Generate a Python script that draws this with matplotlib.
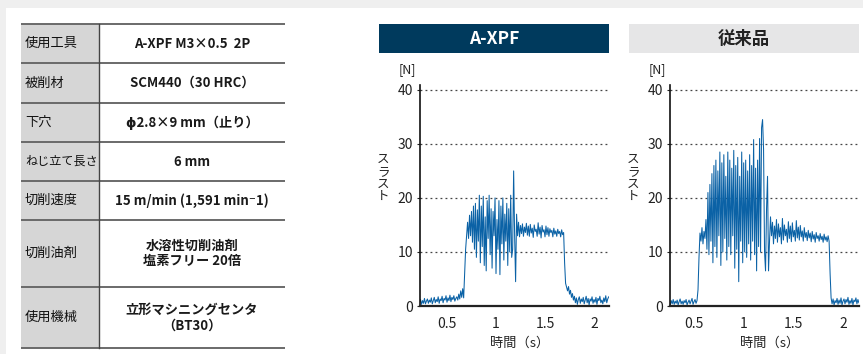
import numpy as np
import matplotlib.pyplot as plt
from matplotlib.patches import Rectangle

plt.rcParams['font.family'] = ['Noto Sans CJK JP', 'DejaVu Sans']

# 試験条件
cond_labels = ["使用工具", "被削材", "下穴", "ねじ立て長さ", "切削速度", "切削油剤", "使用機械"]
cond_values = ["A-XPF M3×0.5  2P", "SCM440（30 HRC）", "ϕ2.8×9 mm（止り）", "6 mm",
               "15 m/min (1,591 min⁻1)", "水溶性切削油剤\n塩素フリー 20倍",
               "立形マシニングセンタ\n（BT30）"]

titles = ["A-XPF", "従来品"]

# スラスト波形 [N]  (0.01 s 刻みで読み取り)
t0_xpf = 0.22
thrust_xpf = [
    0.6, 1.2, 0.3, 1.0, 0.5, 1.4, 0.4, 0.9, 1.3, 0.5,
    1.1, 0.7, 1.5, 0.4, 1.0, 1.6, 0.6, 1.2, 0.8, 1.7,
    0.5, 1.3, 1.0, 1.8, 0.6, 1.4, 1.1, 1.9, 0.7, 1.5,
    1.0, 2.0, 0.8, 1.6, 1.2, 1.9, 0.9, 1.4, 1.7, 1.1,
    2.2, 1.3, 2.8, 1.6,
    3.2, 1.5, 6.0, 10.5, 13.0, 15.5,
    12.5, 16.8, 13.0, 17.5, 11.8,
    18.5, 10.5, 19.0, 9.0, 17.8, 12.0, 20.5, 8.0, 18.5, 11.0,
    20.3, 7.5, 16.5, 6.5, 19.5, 12.5, 20.5, 9.5, 18.0, 7.0,
    17.5, 13.0, 20.0, 6.0, 16.0, 10.5, 19.5, 5.8, 18.5, 11.5,
    20.0, 8.5, 17.0, 12.0, 19.0, 7.5, 18.0, 10.0, 20.5, 9.0,
    10.5, 25.0, 13.0, 4.5, 17.0,
    13.0, 15.5, 12.8, 14.9, 13.4, 15.2, 12.9, 14.6, 13.6, 15.3,
    13.1, 14.8, 12.9, 15.1, 13.5, 14.4, 12.7, 15.0, 13.8, 14.2,
    12.9, 15.4, 13.3, 14.6, 12.6, 14.9, 13.7, 14.1, 12.8, 14.8,
    13.2, 14.5, 12.9, 14.3, 13.6, 14.0, 12.8, 14.4, 13.3, 13.9,
    12.9, 14.2, 13.4, 13.8, 12.8, 14.1, 13.2, 13.6,
    8.0, 4.2, 3.5, 2.8, 3.6, 2.2, 2.9, 1.6, 2.3, 1.1,
    1.8, 0.6, 1.5, 0.3, 1.2, 1.7, 0.5, 1.3, 0.8, 1.6,
    0.4, 1.1, 1.8, 0.6, 1.4, 0.2, 1.3, 0.9, 1.7, 0.5,
    1.2, 0.7, 1.6, 0.3, 1.4, 1.0, 1.8, 0.6, 1.1, 0.4,
    1.5, 0.8, 1.9, 0.6, 1.3, 1.7,
]

t0_conv = 0.25
thrust_conv = [
    0.8, 0.2, 1.0, 0.4, 1.2, 0.3, 0.9, 0.5, 1.1, 0.2,
    0.8, 1.3, 0.4, 0.9, 0.3, 1.0, 0.6, 1.2, 0.2, 0.7,
    1.1, 0.4, 0.9, 1.4, 0.3, 0.8, 1.2, 0.5, 1.0,
    3.0, 9.0, 13.5, 12.0, 14.5, 11.5, 13.8, 12.5, 16.0,
    10.5, 21.0, 9.5, 22.5, 12.0, 24.5, 8.0, 26.0, 11.0, 27.0,
    9.0, 25.0, 13.0, 28.5, 7.5, 26.5, 10.0, 28.0, 12.5, 24.0,
    8.5, 28.5, 11.0, 27.0, 9.5, 25.5, 13.0, 28.8, 7.0, 26.0,
    10.5, 27.5, 4.5, 24.0, 12.0, 28.5, 8.0, 26.5, 10.0, 27.0,
    9.0, 25.0, 11.5, 28.0, 8.5, 26.0, 12.0, 30.8, 9.5, 25.5,
    6.5, 27.0, 11.0, 31.0, 10.0,
    33.0, 34.5, 29.0, 10.0, 6.5, 18.0, 24.0, 6.5,
    12.0, 16.5, 13.0, 15.5, 11.5, 14.8, 12.5, 16.0, 11.8, 15.2,
    12.8, 14.5, 11.5, 16.2, 12.2, 15.0, 13.0, 14.2, 11.8, 15.6,
    12.5, 14.8, 11.9, 15.4, 12.8, 14.0, 12.0, 15.8, 12.6, 14.6,
    12.2, 14.9, 12.8, 13.9, 12.0, 14.5, 12.7, 13.6, 12.1, 14.0,
    12.6, 13.5, 11.9, 13.8, 12.4, 13.2, 11.8, 13.6, 12.5, 13.0,
    12.0, 13.4, 12.3, 12.9, 11.8, 13.3, 12.2, 12.8, 11.9, 13.0,
    12.0, 6.0, 1.5,
    0.4, 1.3, 0.2, 1.0, 0.6, 1.4, 0.3, 1.1, 0.5, 1.5,
    0.2, 0.9, 1.3, 0.4, 1.2, 0.7, 1.6, 0.3, 1.0, 0.5,
    1.4, 0.2, 1.1, 0.8, 1.5, 0.4, 1.2, 0.6,
]
dt = 0.01

W, H = 863, 354
fig = plt.figure(figsize=(W / 100, H / 100), dpi=100)
fig.patch.set_facecolor("#efefef")

# 背景・表・見出し (ピクセル座標)
bg = fig.add_axes([0, 0, 1, 1], zorder=-1)
bg.set_xlim(0, W)
bg.set_ylim(H, 0)
bg.axis("off")
bg.add_patch(Rectangle((6, 8), W - 6, H - 8, facecolor="white", edgecolor="none"))

rows_y = [24, 63, 103, 142, 181, 220, 287, 348]
bg.add_patch(Rectangle((21, 24), 78, 324, facecolor="#d6d6d6", edgecolor="none"))
for y in rows_y:
    bg.plot([21, 285], [y, y], color="#6a6a6a", lw=1.4, solid_capstyle="butt")
bg.plot([99, 99], [24, 348], color="#444444", lw=1.0)
for i in range(len(cond_labels)):
    yc = (rows_y[i] + rows_y[i + 1]) / 2
    fs = 9.5 if len(cond_labels[i]) <= 4 else 8.7
    bg.text(25, yc, cond_labels[i], fontsize=fs, ha="left", va="center",
            color="#111111")
    bg.text(192, yc, cond_values[i], fontsize=9.5, ha="center", va="center",
            color="#1a1a1a", fontweight="bold", linespacing=1.15)

boxes = [(379, "#003a5d", "white"), (629, "#e6e6e7", "#222222")]
for (bx, fc, tc), title in zip(boxes, titles):
    bg.add_patch(Rectangle((bx, 24), 230, 29, facecolor=fc, edgecolor="none"))
    bg.text(bx + 115, 39, title, fontsize=12.5, ha="center", va="center",
            color=tc, fontweight="bold")

series = [(t0_xpf, thrust_xpf, 420, (0.2245, 2.153)),
          (t0_conv, thrust_conv, 670, (0.258, 2.161))]

for t0, vals, left_px, xlim in series:
    t = t0 + dt * np.arange(len(vals))
    ax = fig.add_axes([left_px / W, (H - 306) / H, 189 / W, (306 - 85) / H])
    ax.set_facecolor("none")
    ax.plot(t, vals, color="#0b62a6", lw=0.75)
    ax.set_xlim(*xlim)
    ax.set_ylim(0, 40.9)
    ax.set_yticks([0, 10, 20, 30, 40])
    ax.set_xticks([0.5, 1, 1.5, 2])
    ax.set_xticklabels(["0.5", "1", "1.5", "2"])
    for y in [10, 20, 30, 40]:
        ax.axhline(y, color="#444444", lw=0.9, ls=(0, (1.5, 2.5)), zorder=0)
    for s in ["top", "right"]:
        ax.spines[s].set_visible(False)
    ax.spines["left"].set_color("#111111")
    ax.spines["left"].set_linewidth(1.2)
    ax.spines["bottom"].set_color("#222222")
    ax.spines["bottom"].set_linewidth(1.6)
    ax.tick_params(axis="y", length=2, width=0.8, pad=3, labelsize=10, colors="#222222")
    ax.tick_params(axis="x", length=0, pad=8, labelsize=10, colors="#222222")

    # 軸ラベル
    bg.text(left_px - 13, 70, "[N]", fontsize=9, ha="center", va="center", color="#222222")
    for i, ch in enumerate("スラスト"):
        bg.text(left_px - 37, 159 + 12.5 * i, ch, fontsize=9, ha="center",
                va="center", color="#222222")
    bg.text(left_px + 100, 343, "時間（s）", fontsize=9.5, ha="center",
            va="center", color="#222222")

fig.savefig("out.png", dpi=100, facecolor=fig.get_facecolor())
